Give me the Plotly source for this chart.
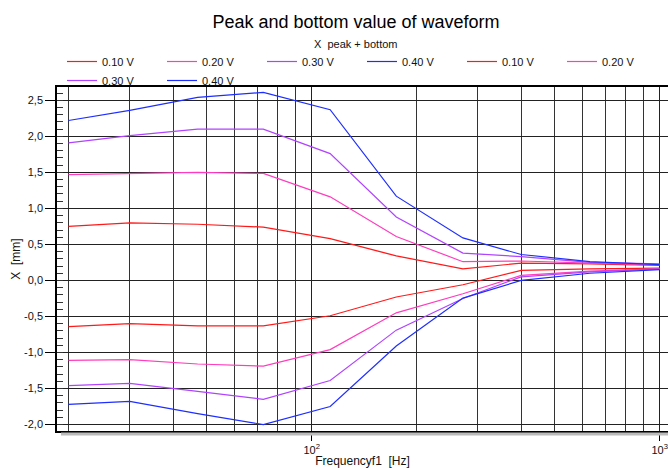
import plotly.graph_objects as go

freq = [20, 30, 47, 72.6, 113, 175, 272, 400, 630, 1000]
voltages = ["0.10 V", "0.20 V", "0.30 V", "0.40 V"]

peak_010 = [0.75, 0.80, 0.78, 0.74, 0.58, 0.34, 0.16, 0.24, 0.23, 0.21]
peak_020 = [1.47, 1.48, 1.50, 1.485, 1.16, 0.61, 0.26, 0.27, 0.24, 0.22]
peak_030 = [1.91, 2.01, 2.10, 2.10, 1.76, 0.88, 0.38, 0.33, 0.25, 0.23]
peak_040 = [2.22, 2.36, 2.54, 2.61, 2.37, 1.17, 0.59, 0.36, 0.26, 0.22]

bottom_010 = [-0.64, -0.60, -0.63, -0.63, -0.49, -0.23, -0.06, 0.14, 0.16, 0.17]
bottom_020 = [-1.11, -1.10, -1.16, -1.19, -0.96, -0.45, -0.185, 0.07, 0.13, 0.16]
bottom_030 = [-1.46, -1.43, -1.54, -1.65, -1.39, -0.69, -0.25, 0.05, 0.12, 0.16]
bottom_040 = [-1.72, -1.68, -1.85, -2.00, -1.75, -0.91, -0.245, 0.00, 0.10, 0.15]

y_tick_vals = [-2.0, -1.5, -1.0, -0.5, 0.0, 0.5, 1.0, 1.5, 2.0, 2.5]
y_tick_text = ["-2,0", "-1,5", "-1,0", "-0,5", "0,0", "0,5", "1,0", "1,5", "2,0", "2,5"]
x_tick_vals = [100, 1000]
x_tick_text = ["10<sup>2</sup>", "10<sup>3</sup>"]
x_minor_grid = [20, 30, 40, 50, 60, 70, 80, 90, 200, 300, 400, 500, 600, 700, 800, 900]

colors = ["#FF1A1A", "#FF3DBE", "#B043FF", "#1E2EFF"]

fig = go.Figure()
for name, ys, c in zip(voltages, [peak_010, peak_020, peak_030, peak_040], colors):
    fig.add_trace(go.Scatter(x=freq, y=ys, mode="lines", name=name,
                             line=dict(color=c, width=1.2)))
for name, ys, c in zip(voltages, [bottom_010, bottom_020, bottom_030, bottom_040], colors):
    fig.add_trace(go.Scatter(x=freq, y=ys, mode="lines", name=name,
                             line=dict(color=c, width=1.2)))

W, H = 668, 468
L, R, T, B = 57, 0, 87, 37
pw, ph = W - L - R, H - T - B

fig.update_layout(
    width=W, height=H,
    margin=dict(l=L, r=R, t=T, b=B, autoexpand=False),
    paper_bgcolor="white", plot_bgcolor="white",
    font=dict(family="Liberation Sans, Arial, sans-serif", size=11, color="#111"),
    title=dict(text="Peak and bottom value of waveform", xref="container", x=356 / W,
               xanchor="center", yref="container", y=1 - 22 / H, yanchor="middle",
               font=dict(size=18, color="#000")),
    showlegend=True,
    legend=dict(orientation="h", x=(62 - L) / pw, xanchor="left",
                y=1 + (T - 47) / ph, yanchor="top",
                entrywidth=55, entrywidthmode="pixels",
                bgcolor="rgba(0,0,0,0)", font=dict(size=11), tracegroupgap=0),
    annotations=[dict(text="X  peak + bottom", xref="paper", yref="paper",
                      x=(355 - L) / pw, y=(H - B - 43.5) / ph, showarrow=False,
                      xanchor="center", yanchor="middle", font=dict(size=11))],
    shapes=[dict(type="line", xref="paper", yref="paper", x0=4 / pw, x1=1.0,
                 y0=-3 / ph, y1=-3 / ph, line=dict(color="#BBBBBB", width=3))],
)

fig.update_xaxes(
    type="log", range=[1.268, 3.024],
    tickmode="array", tickvals=x_tick_vals, ticktext=x_tick_text,
    ticks="outside", ticklen=8, tickcolor="#000",
    showgrid=True, gridcolor="#222", gridwidth=1,
    minor=dict(tickmode="array", tickvals=x_minor_grid, showgrid=True,
               gridcolor="#333", gridwidth=1, ticks=""),
    showline=True, linecolor="#000", linewidth=1.5, mirror=True,
    zeroline=False,
    title=dict(text="Frequencyf1  [Hz]", standoff=2, font=dict(size=12)),
)
fig.update_yaxes(
    range=[-2.09, 2.685],
    tickmode="array", tickvals=y_tick_vals, ticktext=y_tick_text,
    ticks="outside", ticklen=10, tickcolor="#000",
    showgrid=True, gridcolor="#222", gridwidth=1,
    minor=dict(tickmode="linear", dtick=0.1, tick0=0, ticks="inside", ticklen=6,
               tickcolor="#333", showgrid=False),
    showline=True, linecolor="#000", linewidth=1.5, mirror=True,
    zeroline=False,
    title=dict(text="X  [mm]", standoff=1, font=dict(size=12)),
)

fig.write_html("out.html", config={"displayModeBar": False},
               post_script="document.body.style.margin='0px';")
